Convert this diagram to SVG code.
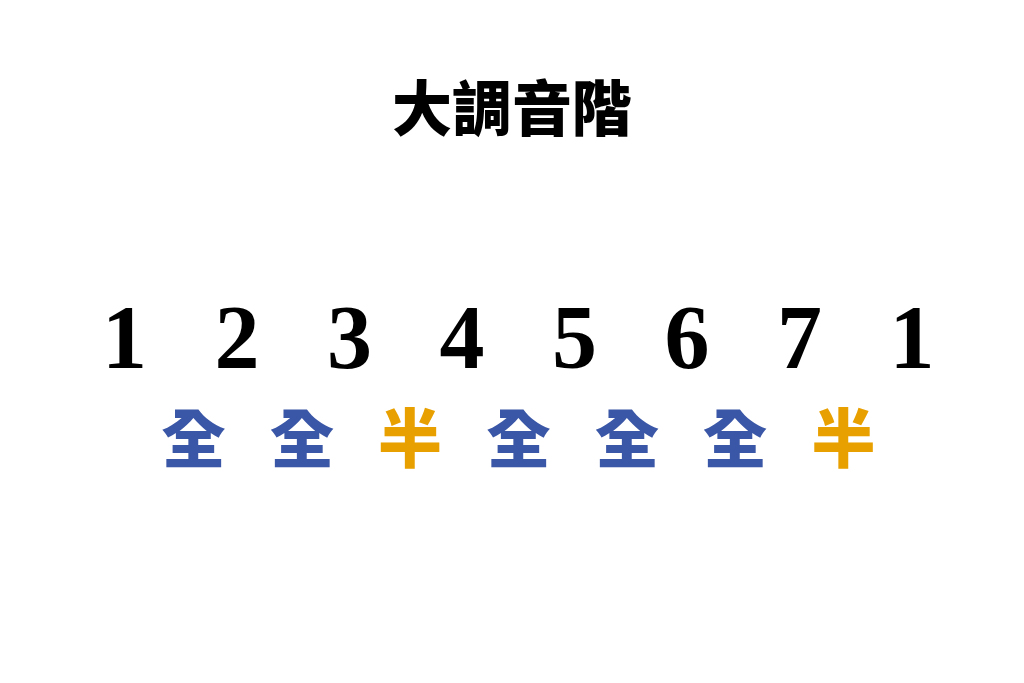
<svg xmlns="http://www.w3.org/2000/svg" width="1024" height="683" viewBox="0 0 1024 683">
<style>
.t{font-family:"Noto Sans CJK TC","Noto Sans CJK JP",sans-serif;font-weight:900;text-anchor:middle}
.d{font-family:"Liberation Serif","DejaVu Serif",serif;font-weight:bold;font-size:90px;fill:#000;text-anchor:middle}
.w{fill:#3a56a6;font-size:64px}
.h{fill:#e8a000;font-size:64px}
</style>
<rect width="1024" height="683" fill="#fff"/>
<g id="title"><text class="t" x="512" y="131" font-size="60" fill="#000">大調音階</text></g>
<g id="degrees">
<text class="d" x="124.5" y="368">1</text>
<text class="d" x="237" y="368">2</text>
<text class="d" x="349.5" y="368">3</text>
<text class="d" x="462" y="368">4</text>
<text class="d" x="574.5" y="368">5</text>
<text class="d" x="687" y="368">6</text>
<text class="d" x="799.5" y="368">7</text>
<text class="d" x="912" y="368">1</text>
</g>
<g id="steps">
<text class="t w" x="193.5" y="462">全</text>
<text class="t w" x="302" y="462">全</text>
<text class="t h" x="410" y="462">半</text>
<text class="t w" x="518.5" y="462">全</text>
<text class="t w" x="627" y="462">全</text>
<text class="t w" x="735" y="462">全</text>
<text class="t h" x="843.5" y="462">半</text>
</g>
</svg>
